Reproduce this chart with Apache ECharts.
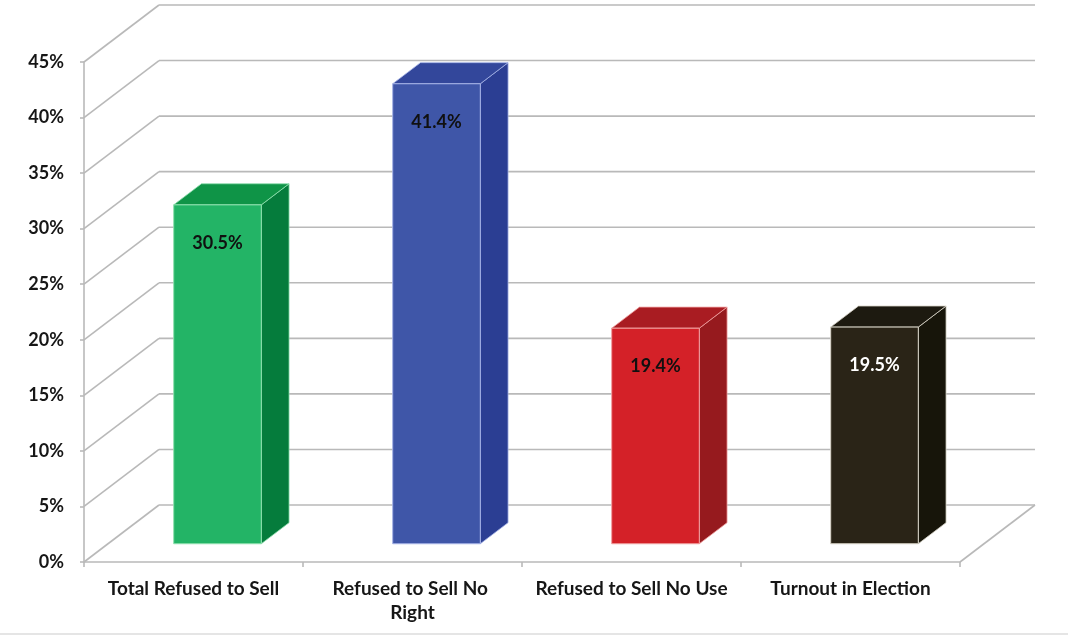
<!DOCTYPE html>
<html>
<head>
<meta charset="utf-8">
<script src="https://cdn.jsdelivr.net/npm/echarts@6/dist/echarts.min.js"></script>
<style>
  html, body { margin: 0; padding: 0; background: #ffffff; }
  #chart { width: 1068px; height: 637px; }
</style>
</head>
<body>
<div id="chart"></div>
<script>
// Chart data
const categories = ['Total Refused to Sell', 'Refused to Sell No Right', 'Refused to Sell No Use', 'Turnout in Election'];
const values = [30.5, 41.4, 19.4, 19.5];
const yTicks = [0, 5, 10, 15, 20, 25, 30, 35, 40, 45];

// Face colours per bar: front, top, side, edge highlight, label colour
const barColors = [
  { front: '#23b466', top: '#0f9447', side: '#057c3c', edge: '#8fe0ae', label: '#101010' },
  { front: '#3f56a8', top: '#33479b', side: '#2b3e93', edge: '#a5b2e6', label: '#101010' },
  { front: '#d42128', top: '#a91c22', side: '#961a1e', edge: '#f0a0a0', label: '#101010' },
  { front: '#2a2417', top: '#1d1a10', side: '#17150a', edge: '#d8d4c8', label: '#ffffff' }
];

// Perspective depth of the plot box (pixels)
const DX = 75, DY = -57;
// Bar placement inside the depth: front face offset and bar thickness
const FRONT = 0.32, THICK = 0.37;
const GRID_COLOR = '#b9b9b9';
const TEXT_COLOR = '#161616';
const FONT = 'Lato, "Open Sans", sans-serif';

const chart = echarts.init(document.getElementById('chart'));

function renderWalls(params, api) {
  const v = api.value(0);
  const cs = params.coordSys;
  const y = api.coord([0, v])[1];
  const x0 = cs.x, x1 = cs.x + cs.width;
  const style = { stroke: GRID_COLOR, lineWidth: 1.6, fill: null };
  const children = [
    { type: 'line', shape: { x1: x0, y1: y, x2: x0 + DX, y2: y + DY }, style },
    { type: 'line', shape: { x1: x0 + DX, y1: y + DY, x2: x1 + DX, y2: y + DY }, style }
  ];
  if (v === 0) {
    children.push({ type: 'line', shape: { x1: x1, y1: y, x2: x1 + DX, y2: y + DY }, style });
  }
  return { type: 'group', children };
}

function renderBar(params, api) {
  const idx = api.value(0);
  const val = api.value(1);
  const top = api.coord([idx, val]);
  const base = api.coord([idx, 0]);
  const bw = api.size([1, 0])[0] * 0.4;
  const fx = DX * FRONT, fy = DY * FRONT;
  const sx = DX * THICK, sy = DY * THICK;
  const xl = top[0] - bw / 2 + fx;
  const xr = xl + bw;
  const yt = top[1] + fy;
  const yb = base[1] + fy;
  const c = barColors[idx];
  return {
    type: 'group',
    children: [
      {
        type: 'polygon',
        shape: { points: [[xr, yt], [xr + sx, yt + sy], [xr + sx, yb + sy], [xr, yb]] },
        style: { fill: c.side, stroke: c.edge, lineWidth: 0.8 }
      },
      {
        type: 'polygon',
        shape: { points: [[xl, yt], [xl + sx, yt + sy], [xr + sx, yt + sy], [xr, yt]] },
        style: { fill: c.top, stroke: c.edge, lineWidth: 0.8 }
      },
      {
        type: 'rect',
        shape: { x: xl, y: yt, width: bw, height: yb - yt },
        style: { fill: c.front, stroke: c.edge, lineWidth: 1 }
      },
      {
        type: 'text',
        x: xl + bw / 2,
        y: yt + 38,
        style: {
          text: val.toFixed(1) + '%',
          fill: c.label,
          font: 'bold 18px ' + FONT,
          align: 'center',
          verticalAlign: 'middle'
        }
      }
    ]
  };
}

chart.setOption({
  backgroundColor: '#ffffff',
  animation: false,
  grid: { left: 84, right: 108, top: 62, bottom: 75 },
  xAxis: {
    type: 'category',
    data: categories,
    axisLine: { show: true, lineStyle: { color: GRID_COLOR, width: 1.6 } },
    axisTick: { show: true, length: 5, lineStyle: { color: GRID_COLOR, width: 1.6 } },
    axisLabel: {
      interval: 0,
      margin: 15,
      color: TEXT_COLOR,
      fontFamily: FONT,
      fontWeight: 'bold',
      fontSize: 19,
      lineHeight: 24,
      width: 199,
      overflow: 'break'
    },
    splitLine: { show: false }
  },
  yAxis: {
    type: 'value',
    min: 0,
    max: 45,
    interval: 5,
    axisLine: { show: true, lineStyle: { color: GRID_COLOR, width: 1.6 } },
    axisTick: { show: true, length: 4, lineStyle: { color: GRID_COLOR, width: 1.6 } },
    axisLabel: {
      formatter: '{value}%',
      margin: 20,
      color: TEXT_COLOR,
      fontFamily: FONT,
      fontWeight: 'bold',
      fontSize: 18
    },
    splitLine: { show: false }
  },
  series: [
    {
      type: 'custom',
      name: 'walls',
      renderItem: renderWalls,
      data: yTicks.map(v => [v]),
      encode: { y: 0 },
      silent: true,
      z: 1,
      clip: false
    },
    {
      type: 'custom',
      name: 'bars',
      renderItem: renderBar,
      data: values.map((v, i) => [i, v]),
      encode: { x: 0, y: 1 },
      z: 3,
      clip: false
    }
  ],
  graphic: [
    {
      type: 'line',
      shape: { x1: 0, y1: 634, x2: 1068, y2: 634 },
      style: { stroke: '#dcdcdc', lineWidth: 1.5 },
      silent: true
    }
  ]
});
</script>
</body>
</html>
